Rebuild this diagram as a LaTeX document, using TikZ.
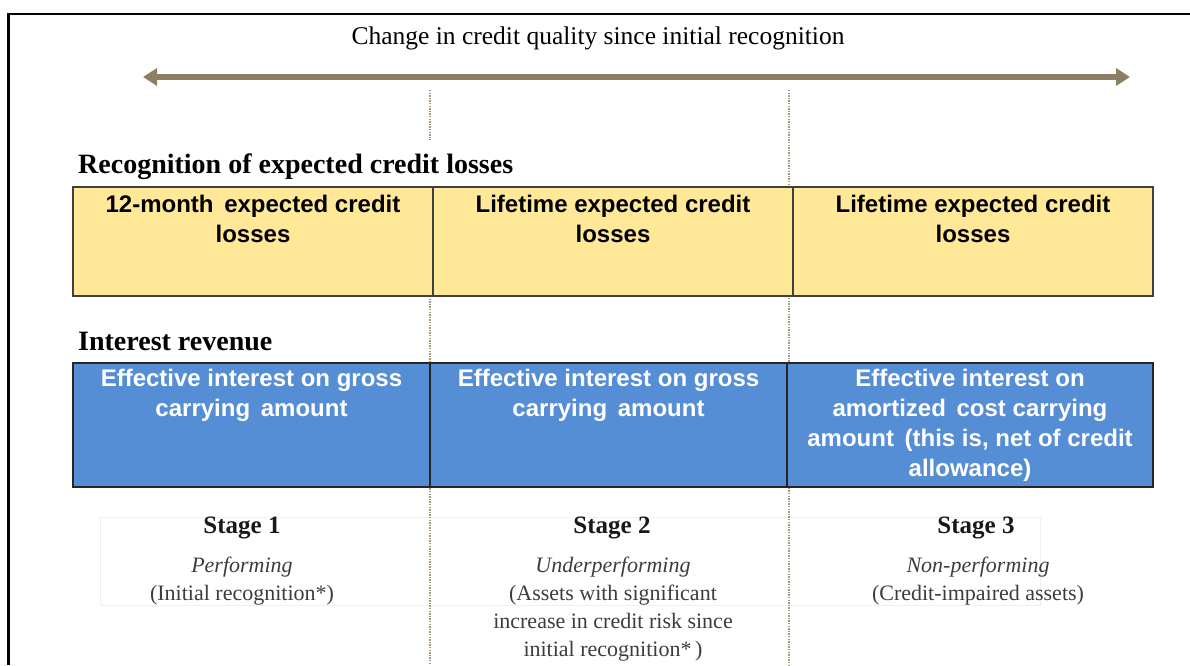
\documentclass[tikz,border=0pt]{standalone}
\usepackage{fontspec}
\setmainfont{Liberation Serif}
\newfontfamily\boxfont{Liberation Sans}
\usetikzlibrary{arrows.meta}

\definecolor{axisbrown}{HTML}{8C7F62}
\definecolor{dotbrown}{HTML}{A89878}
\definecolor{lossyellow}{HTML}{FFE999}
\definecolor{revblue}{HTML}{558ED5}
\definecolor{stagegray}{HTML}{3C3C3C}

\begin{document}
\begin{tikzpicture}[x=1pt,y=-1pt,
  frame/.style={black,line width=2.5pt},
  axis/.style={axisbrown,line width=5.5pt,
    arrows={Triangle[length=14pt,width=17pt]-Triangle[length=14pt,width=17pt]}},
  guide/.style={dotbrown,line width=1.3pt,dash pattern=on 1.3pt off 1.3pt},
  band/.style={draw=black!6,line width=1pt,inner sep=0pt},
  ycell/.style={draw=black!75,line width=1.8pt,fill=lossyellow,
    minimum height=109pt,inner sep=0pt},
  bcell/.style={draw=black!85,line width=1.8pt,fill=revblue,
    minimum height=124pt,inner sep=0pt},
  celltext/.style={anchor=north,align=center,inner sep=0pt,
    font=\boxfont\bfseries\fontsize{24}{30}\selectfont},
  title/.style={anchor=base,inner sep=0pt,font=\fontsize{25.5}{30}\selectfont},
  heading/.style={anchor=base west,inner sep=0pt,
    font=\bfseries\fontsize{28}{32}\selectfont},
  stagehead/.style={anchor=base,inner sep=0pt,text=black!90,
    font=\bfseries\fontsize{25}{30}\selectfont},
  stagebody/.style={anchor=north,align=center,inner sep=0pt,text=stagegray,
    font=\fontsize{22}{28}\selectfont}]

\useasboundingbox (0,0) rectangle (1190,665);

% outer frame (left and top edges)
\coordinate (fBL) at (8.5,665);
\coordinate (fTL) at (8.5,14);
\coordinate (fTR) at (1190,14);
\draw[frame] (fBL) -- (fTL) -- (fTR);

% credit quality axis
\node[title] (axistitle) at (598,44) {Change in credit quality since initial recognition};
\coordinate (axisL) at (143,77);
\coordinate (axisR) at (1130,77);
\draw[axis] (axisL) -- (axisR);

% faint band behind the stage descriptions
\node[band,minimum width=940pt,minimum height=88pt] (stageband) at (570,561) {};

% stage boundaries (the first one pauses at the losses heading)
\coordinate (g1top) at (430,90);
\coordinate (g1mid) at (430,140);
\coordinate (g1low) at (430,296);
\coordinate (g1bot) at (430,665);
\coordinate (g2top) at (789,90);
\coordinate (g2bot) at (789,665);
\draw[guide] (g1top) -- (g1mid);
\draw[guide] (g1low) -- (g1bot);
\draw[guide] (g2top) -- (g2bot);

% recognition of expected credit losses
\node[heading] (lossHead) at (78,173) {Recognition of expected credit losses};
\node[ycell,minimum width=360pt] (loss1) at (253,241.5) {};
\node[ycell,minimum width=360pt] (loss2) at (613,241.5) {};
\node[ycell,minimum width=360pt] (loss3) at (973,241.5) {};
\node[celltext] (loss1t) at ([yshift=-9pt]loss1.north) {12-month\, expected credit\\losses};
\node[celltext] (loss2t) at ([yshift=-9pt]loss2.north) {Lifetime expected credit\\losses};
\node[celltext] (loss3t) at ([yshift=-9pt]loss3.north) {Lifetime expected credit\\losses};

% interest revenue
\node[heading] (revHead) at (78,350) {Interest revenue};
\node[bcell,minimum width=357pt] (rev1) at (251.5,425) {};
\node[bcell,minimum width=357pt] (rev2) at (608.5,425) {};
\node[bcell,minimum width=366pt] (rev3) at (970,425) {};
\node[celltext,text=white] (rev1t) at ([yshift=-6.5pt]rev1.north) {Effective interest on gross\\carrying\, amount};
\node[celltext,text=white] (rev2t) at ([yshift=-6.5pt]rev2.north) {Effective interest on gross\\carrying\, amount};
\node[celltext,text=white] (rev3t) at ([yshift=-6.5pt]rev3.north) {Effective interest on\\amortized\, cost carrying\\amount\, (this is, net of credit\\allowance)};

% stages
\node[stagehead] (st1) at (242,533) {Stage 1};
\node[stagehead] (st2) at (612,533) {Stage 2};
\node[stagehead] (st3) at (976,533) {Stage 3};
\node[stagebody] (st1b) at (242,557) {\textit{Performing}\\(Initial recognition*)};
\node[stagebody] (st2b) at (613,557) {\textit{Underperforming}\\(Assets with significant\\increase in credit risk since\\initial recognition*\,)};
\node[stagebody] (st3b) at (978,557) {\textit{Non-performing}\\(Credit-impaired assets)};

\end{tikzpicture}
\end{document}
